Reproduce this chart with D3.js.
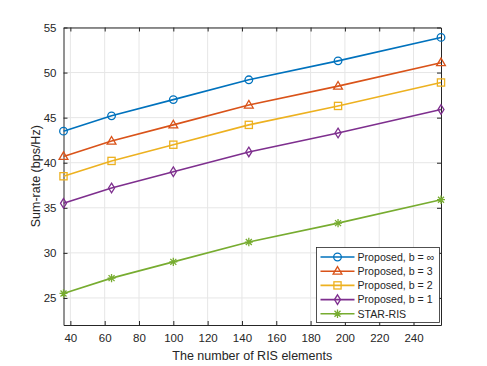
<!DOCTYPE html>
<html>
<head>
<meta charset="utf-8">
<script src="https://cdn.jsdelivr.net/npm/d3@7"></script>
<style>
  body { margin: 0; background: #fff; }
  svg text { font-family: "Liberation Sans", Arial, sans-serif; fill: #262626; }
</style>
</head>
<body>
<svg id="chart" width="487" height="366"></svg>
<script>
// data
var elements = [36, 64, 100, 144, 196, 256];
var rateInf = [43.5, 45.2, 47.0, 49.2, 51.3, 53.9];
var rateB3 = [40.7, 42.4, 44.2, 46.4, 48.5, 51.1];
var rateB2 = [38.5, 40.2, 42.0, 44.2, 46.3, 48.9];
var rateB1 = [35.5, 37.2, 39.0, 41.2, 43.3, 45.9];
var rateStar = [25.5, 27.2, 29.0, 31.2, 33.3, 35.9];
var xTicks = [40, 60, 80, 100, 120, 140, 160, 180, 200, 220, 240];
var yTicks = [25, 30, 35, 40, 45, 50, 55];
var seriesNames = ['Proposed, b = \u221e', 'Proposed, b = 3', 'Proposed, b = 2', 'Proposed, b = 1', 'STAR-RIS'];

var series = [
    {name: seriesNames[0], values: rateInf, color: '#0072BD', marker: 'circle'},
    {name: seriesNames[1], values: rateB3, color: '#D95319', marker: 'triangle'},
    {name: seriesNames[2], values: rateB2, color: '#EDB120', marker: 'square'},
    {name: seriesNames[3], values: rateB1, color: '#7E2F8E', marker: 'diamond'},
    {name: seriesNames[4], values: rateStar, color: '#77AC30', marker: 'star'}
];

var margin = {left: 63.5, right: 46, top: 27.5, bottom: 41};
var width = 487 - margin.left - margin.right;
var height = 366 - margin.top - margin.bottom;

var svg = d3.select('#chart');
var g = svg.append('g').attr('transform', 'translate(' + margin.left + ',' + margin.top + ')');

var x = d3.scaleLinear().domain([36, 256]).range([0, width]);
var y = d3.scaleLinear().domain([22, 55]).range([height, 0]);

//----------GRID----------
g.append('g').selectAll('line').data(xTicks).enter().append('line')
    .attr('x1', function(d) {return x(d);}).attr('x2', function(d) {return x(d);})
    .attr('y1', 0).attr('y2', height)
    .attr('stroke', '#e6e6e6').attr('stroke-width', 1);
g.append('g').selectAll('line').data(yTicks).enter().append('line')
    .attr('y1', function(d) {return y(d);}).attr('y2', function(d) {return y(d);})
    .attr('x1', 0).attr('x2', width)
    .attr('stroke', '#e6e6e6').attr('stroke-width', 1);

//----------AXES----------
function styleAxis(sel) {
    sel.select('.domain').attr('stroke', '#262626');
    sel.selectAll('.tick line').attr('stroke', '#262626');
    sel.selectAll('.tick text').style('font-size', '11.5px').attr('fill', '#262626');
}

g.append('g').attr('transform', 'translate(0,' + height + ')')
    .call(d3.axisBottom(x).tickValues(xTicks).tickSizeInner(-4).tickSizeOuter(0).tickPadding(9))
    .call(styleAxis);
g.append('g')
    .call(d3.axisTop(x).tickValues(xTicks).tickSizeInner(-4).tickSizeOuter(0).tickFormat(''))
    .call(styleAxis);
g.append('g')
    .call(d3.axisLeft(y).tickValues(yTicks).tickSizeInner(-4).tickSizeOuter(0).tickPadding(7))
    .call(styleAxis);
g.append('g').attr('transform', 'translate(' + width + ',0)')
    .call(d3.axisRight(y).tickValues(yTicks).tickSizeInner(-4).tickSizeOuter(0).tickFormat(''))
    .call(styleAxis);

svg.append('text')
    .attr('x', margin.left + width / 2).attr('y', 360)
    .attr('text-anchor', 'middle').style('font-size', '12.5px')
    .text('The number of RIS elements');
svg.append('text')
    .attr('transform', 'translate(39.5,' + (margin.top + height / 2) + ') rotate(-90)')
    .attr('text-anchor', 'middle').style('font-size', '12.5px')
    .text('Sum-rate (bps/Hz)');

//----------MARKERS----------
function drawMarker(sel, type, color) {
    sel.attr('fill', 'none').attr('stroke', color).attr('stroke-width', 1.3);
    if (type === 'circle') {
        sel.append('circle').attr('r', 3.8);
    } else if (type === 'triangle') {
        sel.append('path').attr('d', 'M0,-4.6L4.4,3L-4.4,3Z');
    } else if (type === 'square') {
        sel.append('rect').attr('x', -3.6).attr('y', -3.6).attr('width', 7.2).attr('height', 7.2);
    } else if (type === 'diamond') {
        sel.append('path').attr('d', 'M0,-4.8L3,0L0,4.8L-3,0Z');
    } else if (type === 'star') {
        sel.append('path').attr('d', 'M-4,0L4,0M0,-4.2L0,4.2M-3,-3L3,3M-3,3L3,-3');
    }
}

var line = d3.line()
    .x(function(d, i) {return x(elements[i]);})
    .y(function(d) {return y(d);});

series.forEach(function(s) {
    g.append('path').datum(s.values)
        .attr('d', line)
        .attr('fill', 'none').attr('stroke', s.color).attr('stroke-width', 1.6);
    g.append('g').selectAll('g').data(s.values).enter().append('g')
        .attr('transform', function(d, i) {return 'translate(' + x(elements[i]) + ',' + y(d) + ')';})
        .each(function() {drawMarker(d3.select(this), s.marker, s.color);});
});

//----------LEGEND----------
var legend = svg.append('g').attr('transform', 'translate(316.5,247.5)');
legend.append('rect').attr('width', 123).attr('height', 75)
    .attr('fill', '#fff').attr('stroke', '#262626').attr('stroke-width', 0.8);
series.forEach(function(s, i) {
    var row = legend.append('g').attr('transform', 'translate(0,' + (9.5 + i * 14.2) + ')');
    row.append('line').attr('x1', 4).attr('x2', 38).attr('y1', 0).attr('y2', 0)
        .attr('stroke', s.color).attr('stroke-width', 1.6);
    row.append('g').attr('transform', 'translate(21,0)')
        .call(function(sel) {drawMarker(sel, s.marker, s.color);});
    row.append('text').attr('x', 41).attr('y', 3.8).style('font-size', '10.6px').text(s.name);
});
</script>
</body>
</html>
